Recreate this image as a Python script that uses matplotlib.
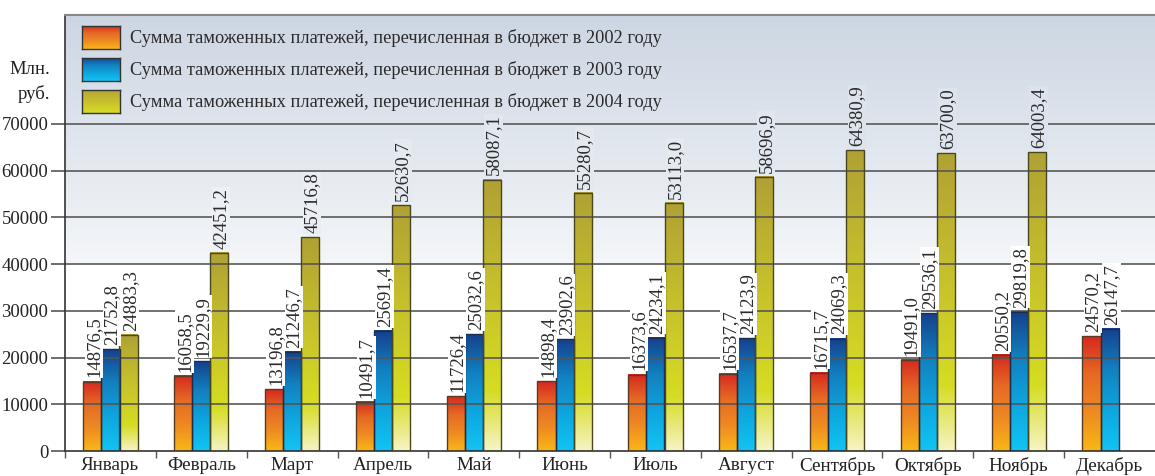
import numpy as np
import matplotlib
matplotlib.use("Agg")
import matplotlib.pyplot as plt
from matplotlib.colors import LinearSegmentedColormap, to_rgb

months = ["Январь", "Февраль", "Март", "Апрель", "Май", "Июнь",
          "Июль", "Август", "Сентябрь", "Октябрь", "Ноябрь", "Декабрь"]
y2002 = [14876.5, 16058.5, 13196.8, 10491.7, 11726.4, 14898.4,
         16373.6, 16537.7, 16715.7, 19491.0, 20550.2, 24570.2]
y2003 = [21752.8, 19229.9, 21246.7, 25691.4, 25032.6, 23902.6,
         24234.1, 24123.9, 24069.3, 29536.1, 29819.8, 26147.7]
y2004 = [24883.3, 42451.2, 45716.8, 52630.7, 58087.1, 55280.7,
         53113.0, 58696.9, 64380.9, 63700.0, 64003.4, None]
legend_labels = [
    "Сумма таможенных платежей, перечисленная в бюджет в 2002 году",
    "Сумма таможенных платежей, перечисленная в бюджет в 2003 году",
    "Сумма таможенных платежей, перечисленная в бюджет в 2004 году",
]
yticks = [0, 10000, 20000, 30000, 40000, 50000, 60000, 70000]

plt.rcParams['font.family'] = ['Liberation Serif', 'DejaVu Serif']

cmaps = [
    LinearSegmentedColormap.from_list("c02", ["#f9b816", "#ee8a22", "#e66a24", "#d6281f"]),
    LinearSegmentedColormap.from_list("c03", ["#12c4f4", "#0ea6de", "#1281c0", "#16408c"]),
    LinearSegmentedColormap.from_list("c04", [(0, "#f6f4c4"), (0.22, "#d6dc22"),
                                              (0.6, "#c6c02c"), (1, "#b0a134")]),
]
edge_colors = ["#5a3a20", "#1c2e50", "#4a4620"]

YMAX = 93330
fig = plt.figure(figsize=(11.55, 4.76), dpi=100)
ax = fig.add_axes([65 / 1155, 25 / 476, 1 - 65 / 1155, 436 / 476])
ax.set_xlim(-0.5, 11.5)
ax.set_ylim(0, YMAX)

# background gradient (grey-blue at top, white below 40000)
top_c = np.array(to_rgb("#ccd6e2"))
low_c = np.array(to_rgb("#f4f6f9"))


def bg_color(v):
    if v < 40000:
        return (1, 1, 1)
    t = (v - 40000) / (YMAX - 40000)
    return tuple(low_c + (top_c - low_c) * t)


ys = np.linspace(0, YMAX, 400)
bg = np.array([bg_color(v) for v in ys]).reshape(-1, 1, 3)
ax.imshow(bg, extent=[-0.5, 11.5, 0, YMAX], origin='lower', aspect='auto', zorder=0)

x = np.arange(len(months))
w = 0.2
grad = np.linspace(0, 1, 256).reshape(-1, 1)
for k, series in enumerate([y2002, y2003, y2004]):
    xs = [xi for xi, v in zip(x, series) if v is not None]
    vals = [v for v in series if v is not None]
    bars = ax.bar(np.array(xs) + (k - 1) * w, vals, width=w, facecolor='none',
                  edgecolor=edge_colors[k], linewidth=1.0, zorder=3)
    for b, v in zip(bars, vals):
        x0 = b.get_x()
        ax.imshow(grad, cmap=cmaps[k], extent=[x0, x0 + b.get_width(), 0, b.get_height()],
                  origin='lower', aspect='auto', zorder=1)
        lab = f"{v:.1f}".replace(".", ",")
        ax.annotate(lab, (x0 + b.get_width() / 2, v), xytext=(1.2, 3),
                    textcoords='offset points', rotation=90, ha='center', va='bottom',
                    fontsize=13.5, color='#2a2a2a', zorder=5,
                    bbox=dict(boxstyle='square,pad=0.04', fc=bg_color(v + 7000), ec='none'))

ax.set_xlim(-0.5, 11.5)
ax.set_ylim(0, YMAX)

# gridlines over bars
for t in yticks[1:]:
    ax.axhline(t, color='#555555', lw=1.3, alpha=0.9, zorder=2)

ax.set_yticks(yticks)
ax.set_yticklabels([str(t) for t in yticks], fontsize=13.5, color='#222222')
ax.tick_params(axis='y', length=10, width=1.2, color='#555555', pad=2)
ax.set_xticks(x)
ax.set_xticklabels(months, fontsize=13.8, color='#222222')
ax.set_xticks(np.arange(-0.5, 11.0, 1.0), minor=True)
ax.tick_params(axis='x', which='major', length=0, pad=4)
ax.tick_params(axis='x', which='minor', length=5, width=1, color='#555555')

ax.spines['right'].set_visible(False)
ax.spines['top'].set_color('#888888')
ax.spines['top'].set_linewidth(1.5)
ax.spines['left'].set_color('#333333')
ax.spines['left'].set_linewidth(1.2)
ax.spines['bottom'].set_color('#333333')
ax.spines['bottom'].set_linewidth(1.2)

# legend with gradient swatches
legend_cmaps = [cmaps[0], cmaps[1],
                LinearSegmentedColormap.from_list("l04", ["#d8dc24", "#c8c02c", "#b3a636"])]
row_y = [38, 70, 102]
for k, lab in enumerate(legend_labels):
    yc = row_y[k]
    sax = fig.add_axes([82 / 1155, 1 - (yc + 11) / 476, 38 / 1155, 23 / 476])
    sax.imshow(grad, cmap=legend_cmaps[k], origin='lower', aspect='auto')
    sax.set_xticks([])
    sax.set_yticks([])
    for sp in sax.spines.values():
        sp.set_color('#333333')
        sp.set_linewidth(1.0)
    fig.text(130 / 1155, 1 - yc / 476, lab, fontsize=13.2, color='#2a2a2a',
             ha='left', va='center')

fig.text(50 / 1155, 1 - 82 / 476, "Млн.\nруб.", fontsize=13.5, color='#222222',
         ha='right', va='center', multialignment='right', linespacing=1.5)

fig.savefig("out.png", dpi=100)
